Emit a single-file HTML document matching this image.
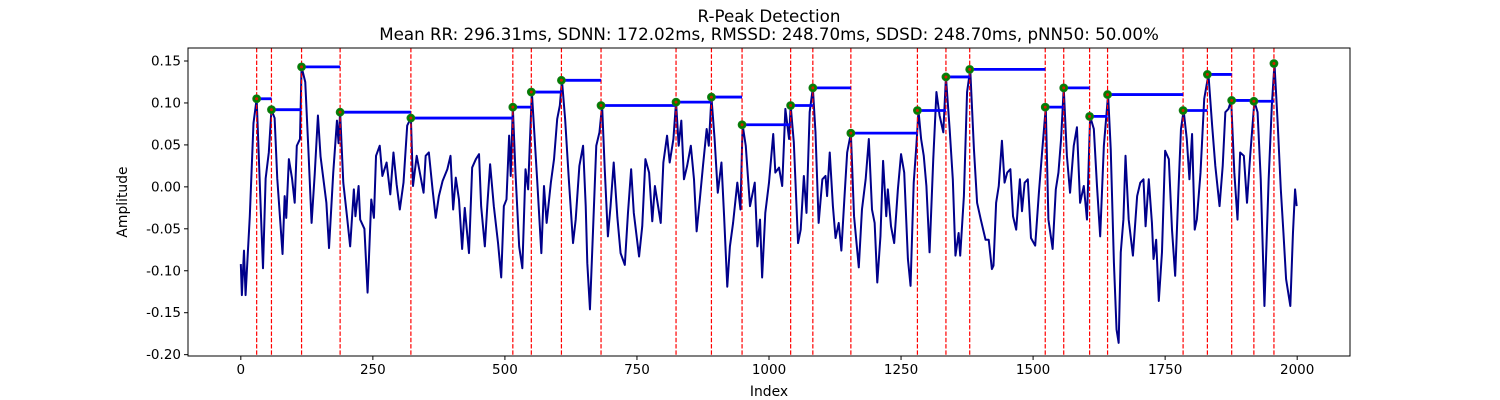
<!DOCTYPE html>
<html><head><meta charset="utf-8">
<style>
html,body{margin:0;padding:0;background:#fff;}
svg{display:block;font-family:"DejaVu Sans","Liberation Sans",sans-serif;}
</style></head>
<body>
<svg id="chart" width="1500" height="400" viewBox="0 0 1500 400" xmlns="http://www.w3.org/2000/svg">
<rect width="1500" height="400" fill="#fff"/>
<text x="769" y="22" font-size="16.7" text-anchor="middle">R-Peak Detection</text>
<text x="769" y="40" font-size="16.7" text-anchor="middle">Mean RR: 296.31ms, SDNN: 172.02ms, RMSSD: 248.70ms, SDSD: 248.70ms, pNN50: 50.00%</text>
<g id="plot"></g>
<text x="769" y="396" font-size="13.9" text-anchor="middle">Index</text>
<text x="127" y="202" font-size="13.9" text-anchor="middle" transform="rotate(-90 127 202)">Amplitude</text>
</svg>
<script>
const sigIdx = [0,2,6,9,17,24,30,38,42,47,53,58,64,69,79,83,86,91,97,102,106,112,115,122,128,134,140,146,151,162,167,175,182,185,188,194,201,207,214,217,223,226,234,240,247,252,256,263,268,276,283,289,295,301,308,315,322,326,333,
346,350,356,363,369,375,382,391,397,402,407,413,419,424,432,438,445,451,455,462,467,472,479,487,493,498,503,508,511,515,520,527,533,539,544,547,551,561,569,574,579,587,593,599,604,608,614,621,629,634,641,648,653,656,661,667,673,679,684,689,695,
700,706,713,719,727,733,739,744,754,760,766,773,779,784,788,795,800,807,812,819,824,829,834,839,845,852,858,863,869,875,882,886,891,897,903,910,915,921,926,932,940,946,950,956,964,973,978,983,987,993,1000,1008,1012,1019,1025,1031,1038,1041,1047,1055,
1060,1066,1071,1077,1083,1088,1094,1101,1107,1110,1115,1121,1126,1132,1137,1143,1148,1155,1161,1170,1176,1183,1189,1195,1200,1205,1211,1216,1222,1225,1231,1237,1244,1250,1256,1263,1268,1274,1279,1283,1288,1293,1298,1304,1311,1317,1323,1330,1335,1342,1348,1353,1359,1362,1369,1375,1381,1388,1394,1401,1410,1416,
1422,1425,1430,1435,1441,1446,1451,1457,1462,1468,1475,1479,1484,1490,1496,1504,1511,1517,1524,1529,1537,1543,1548,1553,1558,1564,1570,1577,1583,1589,1596,1602,1608,1615,1621,1627,1634,1642,1647,1653,1658,1662,1666,1671,1675,1681,1689,1697,1703,1709,1713,1719,1725,1728,1733,1738,1744,1750,1757,1763,1769,1775,1780,1785,
1791,1796,1801,1806,1810,1817,1824,1832,1839,1845,1853,1859,1864,1870,1875,1881,1887,1892,1899,1905,1911,1919,1925,1931,1938,1946,1952,1957,1963,1969,1974,1979,1987,1992,1996,1999];
const sigVal = [-0.092,-0.129,-0.076,-0.129,-0.035,0.076,0.105,-0.031,-0.097,0.010,0.041,0.092,0.082,0.010,-0.080,-0.011,-0.037,0.033,0.010,-0.019,0.049,0.057,0.143,0.125,0.043,-0.043,0.016,0.085,0.036,-0.019,-0.073,0.017,0.079,0.052,0.089,0.005,-0.035,-0.071,-0.003,-0.035,0.001,-0.039,-0.050,-0.126,-0.015,-0.037,0.037,0.049,0.013,0.029,-0.009,0.041,0.003,-0.027,0.005,0.073,0.082,0.001,0.037,
-0.007,0.037,0.041,-0.003,-0.037,-0.011,0.007,0.021,0.037,-0.027,0.011,-0.015,-0.074,-0.025,-0.079,0.023,0.033,0.039,-0.023,-0.071,-0.019,0.027,-0.023,-0.067,-0.108,-0.023,-0.015,0.061,0.013,0.095,0.017,-0.071,-0.097,0.021,-0.003,0.049,0.113,0.009,-0.079,0.001,-0.043,0.005,0.033,0.081,0.097,0.127,0.081,0.009,-0.067,-0.039,0.025,0.049,-0.023,-0.091,-0.146,-0.049,0.049,0.065,0.097,0.021,-0.059,
-0.023,0.029,-0.037,-0.079,-0.093,-0.031,0.021,-0.031,-0.083,-0.047,0.033,0.017,-0.041,0.001,-0.015,-0.043,0.029,0.061,0.029,0.057,0.101,0.049,0.079,0.009,0.025,0.049,0.009,-0.053,-0.015,0.025,0.069,0.049,0.107,0.057,-0.007,0.029,-0.035,-0.119,-0.071,-0.043,0.005,-0.027,0.074,0.049,-0.023,0.005,-0.071,-0.039,-0.108,-0.031,0.005,0.063,0.017,0.023,0.001,0.093,0.057,0.097,0.053,-0.067,
-0.051,0.013,-0.031,0.089,0.118,0.065,-0.043,0.009,0.013,-0.011,0.041,-0.023,-0.061,-0.043,-0.076,-0.011,0.041,0.064,-0.035,-0.096,-0.027,0.009,0.057,-0.027,-0.043,-0.114,-0.059,0.031,-0.035,-0.003,-0.047,-0.067,-0.003,0.039,0.017,-0.086,-0.118,0.005,0.049,0.091,0.057,0.037,0.001,-0.078,0.033,0.113,0.085,0.065,0.131,0.069,0.009,-0.082,-0.055,-0.082,-0.011,0.113,0.140,0.045,-0.019,-0.039,-0.063,-0.063,
-0.098,-0.094,-0.019,0.001,0.055,0.005,0.017,0.021,-0.035,-0.051,0.009,-0.029,0.005,0.009,-0.061,-0.070,-0.007,0.041,0.095,-0.039,-0.074,-0.003,0.017,0.057,0.118,0.037,-0.007,0.049,0.071,-0.019,0.001,-0.039,0.084,0.069,0.001,-0.059,0.049,0.110,0.045,-0.090,-0.170,-0.186,-0.078,-0.039,0.037,-0.039,-0.082,-0.011,0.005,0.009,-0.047,0.009,-0.043,-0.086,-0.063,-0.136,-0.078,0.043,0.033,-0.051,-0.106,-0.007,0.069,0.091,
0.057,0.009,0.063,-0.051,-0.039,0.017,0.105,0.134,0.073,0.025,-0.023,0.025,0.089,0.093,0.103,0.017,-0.039,0.041,0.037,-0.019,0.037,0.102,0.089,0.009,-0.142,0.009,0.097,0.147,0.077,-0.003,-0.055,-0.110,-0.142,-0.055,-0.003,-0.023];
const peakIdx = [30,58,115,188,322,515,550,607,682,824,891,949,1041,1083,1155,1281,1335,1380,1523,1558,1607,1641,1784,1830,1876,1918,1956];
const peakVal = [0.105,0.092,0.143,0.089,0.082,0.095,0.113,0.127,0.097,0.101,0.107,0.074,0.097,0.118,0.064,0.091,0.131,0.140,0.095,0.118,0.084,0.110,0.091,0.134,0.103,0.102,0.147];
const xTicks = [0,250,500,750,1000,1250,1500,1750,2000];
const yTicks = [-0.20,-0.15,-0.10,-0.05,0.00,0.05,0.10,0.15];

const L=188,R=1350,T=48,B=356;
const xmin=-100,xmax=2100,ymin=-0.2016,ymax=0.1655;
const sx=v=>L+(v-xmin)/(xmax-xmin)*(R-L);
const sy=v=>B-(v-ymin)/(ymax-ymin)*(B-T);
const NS='http://www.w3.org/2000/svg';
const g=document.getElementById('plot');
function mk(tag,attrs){const e=document.createElementNS(NS,tag);for(const k in attrs)e.setAttribute(k,attrs[k]);g.appendChild(e);return e;}

let d='';
sigIdx.forEach((x,i)=>{d+=(i?'L':'M')+sx(x).toFixed(2)+' '+sy(sigVal[i]).toFixed(2);});
const sig=mk('path',{d:d,fill:'none',stroke:'#00008b','stroke-width':2,'stroke-linejoin':'round'});



peakIdx.forEach((p,i)=>{
  const l=mk('line',{x1:sx(p),x2:sx(p),y1:T,y2:B,stroke:'#ff0000','stroke-width':1.2,'stroke-dasharray':'4.4,1.9'});
  
  
});
for(let i=0;i<peakIdx.length-1;i++){
  const h=mk('line',{x1:sx(peakIdx[i]),x2:sx(peakIdx[i+1]),y1:sy(peakVal[i]),y2:sy(peakVal[i]),stroke:'#0000ff','stroke-width':2.8});
  
  
}
peakIdx.forEach((p,i)=>{
  const c=mk('circle',{cx:sx(p),cy:sy(peakVal[i]),r:4,fill:'#008000',stroke:'#1a7a1a','stroke-width':0.8});
  
  
  const c2=mk('circle',{cx:sx(p),cy:sy(peakVal[i]),r:1.5,fill:'#cc2200'});
  
  
});
const fr=mk('rect',{x:L,y:T,width:R-L,height:B-T,fill:'none',stroke:'#000','stroke-width':1});


xTicks.forEach(t=>{
  const x=sx(t);
  const tk=mk('line',{x1:x,x2:x,y1:B,y2:B+4,stroke:'#000'});
  
  
  const tx=mk('text',{x:x,y:B+18,'font-size':13.5,'text-anchor':'middle'});
  tx.textContent=t;
  
  
});
yTicks.forEach(t=>{
  const y=sy(t);
  const tk=mk('line',{x1:L-4,x2:L,y1:y,y2:y,stroke:'#000'});
  
  
  const tx=mk('text',{x:L-7,y:y+4.5,'font-size':13.5,'text-anchor':'end'});
  tx.textContent=t.toFixed(2);
  
  
});
</script>
</body></html>
